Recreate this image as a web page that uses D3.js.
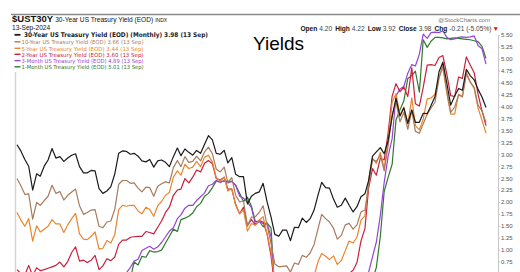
<!DOCTYPE html>
<html>
<head>
<meta charset="utf-8">
<script src="https://cdn.jsdelivr.net/npm/d3@7"></script>
<style>
  body { margin: 0; background: #fff; }
  svg { display: block; font-family: "Liberation Sans", Arial, sans-serif; }
</style>
</head>
<body>
<svg width="520" height="272"></svg>
<script>
// monthly closes, Sep 2014 .. Sep 2024
var y30 = [3.20,3.07,2.89,2.75,
  2.25,2.59,2.54,2.75,2.88,3.12,2.92,2.95,2.85,2.92,2.98,3.01,
  2.74,2.61,2.61,2.66,2.65,2.28,2.18,2.23,2.32,2.58,3.02,3.07,
  3.06,3.00,3.02,2.96,2.86,2.84,2.89,2.73,2.86,2.88,2.83,2.74,
  2.95,3.13,2.97,3.11,3.04,2.98,3.08,3.02,3.21,3.39,3.30,3.02,
  3.00,3.08,2.82,2.93,2.58,2.53,2.53,1.96,2.12,2.18,2.21,2.39,
  2.00,1.68,1.32,1.28,1.41,1.41,1.19,1.47,1.46,1.66,1.57,1.65,
  1.83,2.15,2.41,2.30,2.29,2.06,1.89,1.93,2.08,1.93,1.79,1.90,
  2.11,2.17,2.44,2.96,3.05,3.14,3.01,3.29,3.79,4.17,3.80,3.97,
  3.65,3.93,3.67,3.67,3.86,3.85,4.02,4.21,4.73,4.93,4.49,4.03,
  4.22,4.38,4.34,4.78,4.65,4.56,4.36,4.20,3.98];
var y10 = [2.49,2.34,2.16,2.17,
  1.64,1.99,1.93,2.03,2.12,2.35,2.18,2.22,2.04,2.14,2.21,2.27,
  1.92,1.74,1.78,1.83,1.84,1.49,1.46,1.58,1.60,1.84,2.37,2.45,
  2.45,2.39,2.40,2.29,2.21,2.31,2.30,2.12,2.33,2.38,2.42,2.40,
  2.72,2.87,2.74,2.95,2.83,2.85,2.96,2.86,3.05,3.15,3.01,2.69,
  2.63,2.73,2.41,2.51,2.14,2.00,2.02,1.50,1.68,1.69,1.78,1.92,
  1.51,1.13,0.70,0.64,0.65,0.66,0.53,0.72,0.69,0.88,0.84,0.93,
  1.11,1.44,1.74,1.65,1.58,1.45,1.22,1.30,1.52,1.55,1.43,1.52,
  1.79,1.83,2.32,2.89,2.85,2.98,2.65,3.19,3.83,4.10,3.68,3.88,
  3.52,3.92,3.48,3.44,3.64,3.84,3.97,4.09,4.59,4.88,4.33,3.88,
  3.99,4.25,4.20,4.69,4.51,4.40,4.03,3.91,3.66];
var y5 = [1.78,1.62,1.49,1.65,
  1.18,1.50,1.37,1.43,1.49,1.63,1.54,1.54,1.36,1.52,1.65,1.76,
  1.33,1.22,1.21,1.28,1.37,1.01,1.03,1.19,1.14,1.31,1.84,1.93,
  1.91,1.93,1.93,1.81,1.75,1.89,1.84,1.70,1.92,2.01,2.14,2.20,
  2.52,2.65,2.56,2.79,2.70,2.73,2.85,2.74,2.94,2.98,2.84,2.51,
  2.43,2.52,2.23,2.28,1.93,1.76,1.83,1.39,1.55,1.51,1.62,1.69,
  1.32,0.94,0.37,0.36,0.30,0.29,0.21,0.28,0.28,0.38,0.36,0.36,
  0.45,0.75,0.92,0.86,0.79,0.87,0.69,0.77,0.98,1.18,1.14,1.26,
  1.62,1.71,2.42,2.92,2.81,3.04,2.70,3.30,4.09,4.27,3.82,3.99,
  3.63,4.18,3.60,3.51,3.74,4.16,4.18,4.26,4.61,4.82,4.27,3.84,
  3.84,4.26,4.21,4.72,4.52,4.38,3.97,3.71,3.44];
var y2 = [0.58,0.50,0.47,0.67,
  0.45,0.62,0.56,0.58,0.61,0.64,0.67,0.74,0.64,0.75,0.94,1.06,
  0.76,0.78,0.73,0.78,0.88,0.58,0.66,0.81,0.77,0.84,1.11,1.20,
  1.20,1.26,1.27,1.28,1.28,1.38,1.36,1.33,1.47,1.60,1.78,1.89,
  2.14,2.25,2.27,2.49,2.40,2.52,2.67,2.63,2.81,2.87,2.80,2.49,
  2.46,2.52,2.27,2.27,1.95,1.75,1.89,1.50,1.63,1.52,1.61,1.58,
  1.33,0.86,0.23,0.20,0.16,0.16,0.11,0.14,0.13,0.14,0.16,0.13,
  0.11,0.13,0.16,0.16,0.14,0.25,0.19,0.21,0.28,0.50,0.57,0.73,
  1.18,1.44,2.28,2.70,2.56,2.92,2.88,3.45,4.22,4.48,4.31,4.41,
  4.21,4.81,4.06,4.01,4.40,4.87,4.88,4.86,5.03,5.07,4.68,4.23,
  4.21,4.62,4.59,5.04,4.87,4.71,4.26,3.91,3.60];
var m3 = [0.02,0.01,0.02,0.04,
  0.02,0.02,0.03,0.01,0.01,0.01,0.08,0.08,0.00,0.08,0.22,0.16,
  0.33,0.33,0.21,0.22,0.34,0.26,0.28,0.33,0.29,0.34,0.48,0.51,
  0.52,0.63,0.76,0.80,0.98,1.03,1.07,1.01,1.06,1.15,1.27,1.39,
  1.46,1.65,1.73,1.87,1.93,1.93,2.03,2.11,2.19,2.34,2.37,2.45,
  2.41,2.45,2.40,2.43,2.35,2.12,2.08,1.99,1.88,1.54,1.59,1.55,
  1.55,1.27,0.11,0.09,0.14,0.16,0.09,0.11,0.10,0.09,0.08,0.09,
  0.06,0.04,0.03,0.01,0.01,0.05,0.06,0.04,0.04,0.05,0.05,0.06,
  0.22,0.35,0.52,0.85,1.16,1.72,2.41,2.96,3.33,4.22,4.37,4.42,
  4.70,4.88,4.85,5.10,5.52,5.43,5.55,5.56,5.55,5.59,5.45,5.40,
  5.42,5.45,5.46,5.45,5.46,5.48,5.28,5.21,4.89];
var m1 = [0.01,0.01,0.05,0.03,
  0.02,0.02,0.05,0.01,0.00,0.00,0.05,0.02,0.00,0.01,0.14,0.14,
  0.23,0.28,0.18,0.17,0.24,0.20,0.26,0.26,0.20,0.22,0.42,0.44,
  0.50,0.40,0.74,0.68,0.86,0.84,0.98,0.95,0.96,0.99,1.14,1.28,
  1.43,1.38,1.63,1.66,1.70,1.77,1.90,1.97,2.12,2.18,2.30,2.44,
  2.42,2.44,2.43,2.43,2.35,2.18,2.01,2.10,1.91,1.59,1.60,1.48,
  1.56,1.45,0.05,0.09,0.13,0.13,0.08,0.08,0.09,0.09,0.08,0.08,
  0.05,0.04,0.01,0.01,0.01,0.05,0.05,0.04,0.07,0.06,0.05,0.06,
  0.03,0.03,0.17,0.36,0.63,1.28,2.22,2.52,2.79,3.72,3.93,4.12,
  4.59,4.65,4.74,4.30,5.40,5.24,5.37,5.45,5.45,5.44,5.42,5.43,
  5.44,5.43,5.42,5.41,5.40,5.38,5.36,5.26,5.01];

var seriesNames = ["30-Year US Treasury Yield (EOD) (Monthly) 3.98 (13 Sep)",
  "10-Year US Treasury Yield (EOD) 3.66 (13 Sep)",
  "5-Year US Treasury Yield (EOD) 3.44 (13 Sep)",
  "2-Year US Treasury Yield (EOD) 3.60 (13 Sep)",
  "3-Month US Treasury Yield (EOD) 4.89 (13 Sep)",
  "1-Month US Treasury Yield (EOD) 5.01 (13 Sep)"];
var yTicks = [0.5,0.75,1,1.25,1.5,1.75,2,2.25,2.5,2.75,3,3.25,3.5,3.75,4,4.25,4.5,4.75,5,5.25,5.5];

var months = d3.timeMonth.range(new Date(2014, 8, 1), new Date(2024, 9, 1));
var colors = ["#1a1a1a", "#a87b5e", "#e8862e", "#c8203c", "#9545d4", "#2e7a2e"];
var allSeries = [y30, y10, y5, y2, m3, m1];

var svg = d3.select("svg");

var x = d3.scaleTime().domain([months[0], months[months.length - 1]]).range([17, 486]);
var y = d3.scaleLinear().domain([0.5, 5.5]).range([273.5, 35]);

// top rule
svg.append("line")
  .attr("x1", 11).attr("x2", 520).attr("y1", 14.5).attr("y2", 14.5)
  .attr("stroke", "#8a8a8a").attr("stroke-width", 1.5);

svg.append("defs").append("clipPath").attr("id", "plot")
  .append("rect").attr("x", 16).attr("y", 31).attr("width", 482).attr("height", 241);

// left frame line
svg.append("line")
  .attr("x1", 15.5).attr("x2", 15.5).attr("y1", 72).attr("y2", 272)
  .attr("stroke", "#d4d4d4").attr("stroke-width", 1.5);

// right axis
var yAxis = d3.axisRight(y).tickValues(yTicks).tickFormat(d3.format(".2f")).tickSize(2);
var ax = svg.append("g").attr("transform", "translate(498,0)").call(yAxis);
ax.select(".domain").attr("stroke", "#c8c8c8");
ax.selectAll(".tick line").attr("stroke", "#c8c8c8");
ax.selectAll(".tick text").attr("x", 3).attr("fill", "#555")
  .style("font-size", "6px").attr("font-family", "Liberation Sans, Arial, sans-serif");

var line = d3.line()
  .x(function(d, i) { return x(months[i]); })
  .y(function(d) { return y(d); });

var plot = svg.append("g").attr("clip-path", "url(#plot)");
// draw short-end first so long bonds sit on top like the reference
[5, 4, 3, 2, 1, 0].forEach(function(k) {
  plot.append("path")
    .datum(allSeries[k])
    .attr("fill", "none")
    .attr("stroke", colors[k])
    .attr("stroke-width", 1.2)
    .attr("stroke-linejoin", "round")
    .attr("d", line);
});

// header
var h1 = svg.append("text").attr("x", 12).attr("y", 22).attr("fill", "#111");
h1.append("tspan").attr("font-weight", "bold").style("font-size", "9.5px").text("$UST30Y");
h1.append("tspan").attr("dx", 2).style("font-size", "6.6px").text("30-Year US Treasury Yield (EOD)");
h1.append("tspan").attr("dx", 2).style("font-size", "5px").text("INDX");

svg.append("text").attr("x", 12).attr("y", 30).attr("fill", "#111")
  .style("font-size", "6.6px").text("13-Sep-2024");

svg.append("text").attr("x", 490).attr("y", 22).attr("text-anchor", "end")
  .attr("fill", "#777").style("font-size", "6px").text("@StockCharts.com");

var ohlc = svg.append("text").attr("x", 499).attr("y", 30.5).attr("text-anchor", "end")
  .attr("fill", "#111").style("font-size", "6.6px");
[["Open", "4.20"], ["High", "4.22"], ["Low", "3.92"], ["Close", "3.98"], ["Chg", "-0.21 (-5.05%)"]]
  .forEach(function(p, i) {
    ohlc.append("tspan").attr("dx", i ? 3 : 0).attr("font-weight", "bold").text(p[0]);
    ohlc.append("tspan").attr("dx", 2).attr("fill", "#444").text(p[1]);
  });
ohlc.append("tspan").attr("dx", 1).attr("fill", "#d01010").text("▼");

svg.append("text").attr("x", 253).attr("y", 50).attr("fill", "#000")
  .style("font-size", "19px").text("Yields");

// legend
var legY = [37, 44, 50.5, 56.5, 62.8, 69];
seriesNames.forEach(function(name, i) {
  var g = svg.append("g");
  g.append("line")
    .attr("x1", 14.5).attr("x2", 20.5)
    .attr("y1", legY[i] - 2.2).attr("y2", legY[i] - 2.2)
    .attr("stroke", colors[i]).attr("stroke-width", i ? 1.4 : 1.8);
  g.append("text")
    .attr("x", i ? 21.5 : 24).attr("y", legY[i])
    .attr("fill", colors[i])
    .attr("font-family", "DejaVu Sans, Verdana, sans-serif")
    .attr("font-weight", i ? "normal" : "bold")
    .style("font-size", i ? "5.6px" : "6.4px")
    .attr("textLength", i ? 122 : 184)
    .attr("lengthAdjust", "spacingAndGlyphs")
    .text(name);
});
</script>
</body>
</html>
